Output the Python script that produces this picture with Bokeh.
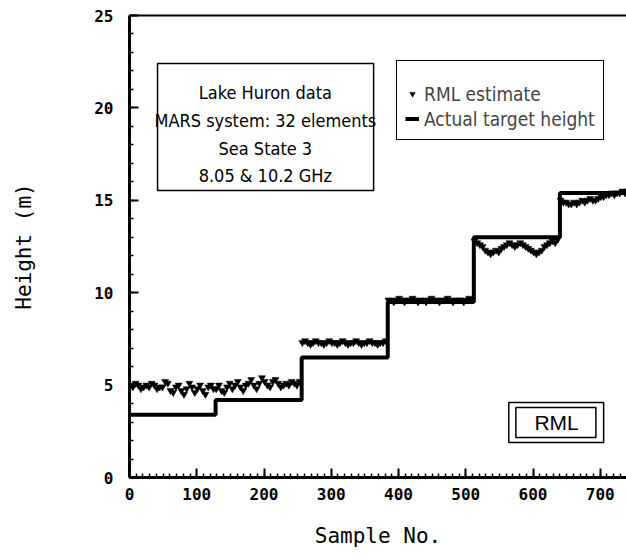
import numpy as np
from bokeh.plotting import figure
from bokeh.models import (Range1d, LinearAxis, SingleIntervalTicker, FixedTicker,
                          BoxAnnotation, Label, Legend, LegendItem)
from bokeh.embed import file_html
from bokeh.resources import INLINE

# ---- data ----
seg_edges = [0, 128, 256, 384, 512, 640, 768]
actual_heights = [3.4, 4.2, 6.5, 9.5, 13.0, 15.4]

rml_seg1 = [5.0, 4.9, 5.1, 5.0, 4.8, 4.9, 5.0, 4.9, 5.1, 5.0, 4.8, 4.9, 4.9, 5.2, 5.1, 4.7,
            4.6, 4.9, 5.0, 4.7, 4.5, 4.8, 5.1, 4.9, 4.6, 4.8, 5.0, 4.7, 4.5, 4.9, 5.0, 4.8]
rml_seg2 = [4.8, 5.0, 4.7, 4.6, 4.9, 5.1, 4.8, 5.0, 5.2, 4.9, 4.7, 5.0, 5.1, 5.3, 5.0, 4.8,
            5.1, 5.4, 5.2, 5.0, 4.9, 5.2, 5.3, 5.1, 4.9, 5.0, 5.1, 5.0, 5.2, 5.1, 5.0, 5.2]
rml_seg3 = [7.3, 7.4, 7.3, 7.2, 7.3, 7.4, 7.3, 7.3, 7.2, 7.3, 7.4, 7.3, 7.3, 7.2, 7.3, 7.4,
            7.3, 7.2, 7.3, 7.3, 7.4, 7.3, 7.2, 7.3, 7.3, 7.4, 7.3, 7.3, 7.2, 7.3, 7.3, 7.4]
rml_seg4 = [9.6, 9.6, 9.5, 9.6, 9.7, 9.6, 9.5, 9.6, 9.6, 9.7, 9.6, 9.5, 9.6, 9.6, 9.5, 9.6,
            9.7, 9.6, 9.6, 9.5, 9.6, 9.6, 9.7, 9.6, 9.5, 9.6, 9.6, 9.6, 9.5, 9.6, 9.7, 9.6]
rml_seg5 = [12.8, 12.7, 12.6, 12.5, 12.3, 12.2, 12.1, 12.2, 12.3, 12.2, 12.4, 12.5, 12.6, 12.7, 12.6, 12.5,
            12.6, 12.7, 12.6, 12.5, 12.4, 12.3, 12.2, 12.1, 12.2, 12.3, 12.5, 12.6, 12.7, 12.8, 12.7, 12.9]
rml_seg6 = [15.0, 14.9, 14.9, 14.8, 14.8, 14.9, 14.8, 14.9, 15.0, 14.9, 15.0, 15.1, 15.0, 15.0, 15.1, 15.2,
            15.2, 15.3, 15.3, 15.4, 15.3, 15.4, 15.4, 15.5, 15.4, 15.5, 15.4, 15.5, 15.5, 15.4, 15.5, 15.5]
sample_step = 4

info_lines = ["Lake Huron data", "MARS system: 32 elements", "Sea State 3", "8.05 & 10.2 GHz"]

rml_values = rml_seg1 + rml_seg2 + rml_seg3 + rml_seg4 + rml_seg5 + rml_seg6
rml_samples = list(np.arange(len(rml_values)) * sample_step + 1)
step_y = actual_heights + [actual_heights[-1]]

MONO = "DejaVu Sans Mono"
NARROW = "DejaVu Sans Condensed"

p = figure(width=626, height=555, x_range=Range1d(0, 739), y_range=Range1d(0, 25),
           output_backend="svg", toolbar_location=None,
           x_axis_type=None, y_axis_type=None,
           min_border_left=129, min_border_top=15, min_border_right=0, min_border_bottom=78)
p.outline_line_color = None
p.background_fill_color = "white"
p.border_fill_color = "white"

# axes
xax = LinearAxis(ticker=SingleIntervalTicker(interval=100, num_minor_ticks=10),
                 axis_label="Sample No.")
yax = LinearAxis(ticker=SingleIntervalTicker(interval=5, num_minor_ticks=5),
                 axis_label="Height (m)")
for ax in (xax, yax):
    ax.axis_line_width = 3
    ax.axis_line_color = "black"
    ax.major_tick_in = 9
    ax.major_tick_out = 0
    ax.minor_tick_in = 4
    ax.minor_tick_out = 0
    ax.major_tick_line_width = 2
    ax.minor_tick_line_width = 1.5
    ax.major_label_text_font = MONO
    ax.major_label_text_font_style = "bold"
    ax.major_label_text_font_size = "16px"
    ax.major_label_text_color = "black"
    ax.axis_label_text_font = MONO
    ax.axis_label_text_font_style = "normal"
    ax.axis_label_text_font_size = "21px"
    ax.axis_label_text_color = "black"
xax.major_label_standoff = 10
xax.axis_label_standoff = 21
yax.major_label_standoff = 16
yax.axis_label_standoff = 55
p.add_layout(xax, "below")
p.add_layout(yax, "left")

top = LinearAxis(ticker=FixedTicker(ticks=[]), axis_line_width=2,
                 major_label_text_font_size="0px")
p.add_layout(top, "above")

# data
r_step = p.step(x=seg_edges, y=step_y, mode="after", line_width=4, line_color="black")
r_pts = p.scatter(x=rml_samples, y=rml_values, marker="inverted_triangle", size=7,
                  fill_color="black", line_color="black", line_width=0.5)

# info box
p.add_layout(BoxAnnotation(left=41.7, right=363, bottom=15.53, top=22.4,
                           fill_alpha=0, line_color="black", line_alpha=1, line_width=1.5))
for t, yy in zip(info_lines, [20.83, 19.32, 17.8, 16.34]):
    p.add_layout(Label(x=202, y=yy, text=t, text_align="center", text_baseline="middle",
                       text_font=NARROW, text_font_size="18px", text_color="black"))

# legend
leg = Legend(items=[LegendItem(label="RML estimate", renderers=[r_pts]),
                    LegendItem(label="Actual target height", renderers=[r_step])],
             location=(267, 337), margin=0, padding=8, spacing=0,
             title=" ", title_text_font_size="11px", title_standoff=0,
             label_text_font=NARROW, label_text_font_size="19px",
             label_height=25, glyph_height=25, glyph_width=14, label_standoff=5,
             border_line_color="black", border_line_alpha=1, border_line_width=1.5,
             background_fill_alpha=1)
p.add_layout(leg)

# RML tag box (double border)
p.add_layout(BoxAnnotation(left=564, right=705, bottom=1.89, top=4.06,
                           fill_alpha=0, line_color="black", line_alpha=1, line_width=1.5))
p.add_layout(BoxAnnotation(left=574.5, right=693.5, bottom=2.16, top=3.79,
                           fill_alpha=0, line_color="black", line_alpha=1, line_width=1.5))
p.add_layout(Label(x=635, y=2.97, text="RML", text_align="center", text_baseline="middle",
                   text_font="Liberation Sans", text_font_size="21px", text_color="black"))

open("out.html", "w").write(file_html(p, INLINE))
